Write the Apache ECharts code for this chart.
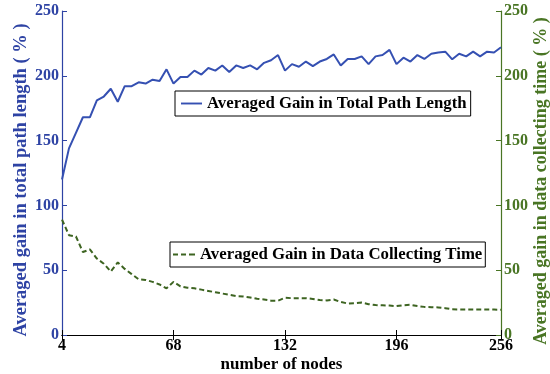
<!DOCTYPE html>
<html>
<head>
<meta charset="utf-8">
<script src="https://cdn.jsdelivr.net/npm/echarts@6/dist/echarts.min.js"></script>
<style>
html,body{margin:0;padding:0;background:#fff;}
#chart{width:550px;height:374px;}
</style>
</head>
<body>
<div id="chart"></div>
<script>
const nodes = [4,8,12,16,20,24,28,32,36,40,44,48,52,56,60,64,68,72,76,80,84,88,92,96,100,104,108,112,116,120,124,128,132,136,140,144,148,152,156,160,164,168,172,176,180,184,188,192,196,200,204,208,212,216,220,224,228,232,236,240,244,248,252,256];
const pathGain = [120,144,156,168,168,181,184,190,180,192,192,195,194,197,196,205,194,199,199,204,201,206,204,208,203,208,206,208,205,210,212,216,204,209,207,211,207.5,211,213,216.5,208,213,213,215,209,215,216,220,209,214,211,216,213,217,218,218.6,212.7,217,215,218.6,215,218.6,218,222];
const timeGain = [89,77,76,64,66,59,55,49,56,51,47,43,42.5,41,39,36,41,37.5,36.5,36,35,34,33,32,31,30,29.7,29,28,27.4,26.5,26.5,28.7,28.4,28.4,28.4,27.8,27,26.7,27.4,25.5,24.3,24.5,25,23.8,23.1,22.9,22.7,22.3,23,23.3,22.3,21.7,21.5,21.3,20.7,19.8,19.7,19.7,19.7,19.7,19.6,19.6,19.5];
const xTicks = {min: 4, max: 256, interval: 64};
const yTicks = {min: 0, max: 250, interval: 50};
const seriesNames = ['Averaged Gain in Total Path Length', 'Averaged Gain in Data Collecting Time'];
const axisNames = {x: 'number of nodes', left: 'Averaged gain in total path length ( % )', right: 'Averaged gain in data collecting time ( % )'};

const FONT = 'Liberation Serif';
const BLUE_TXT = '#2e43a4';
const BLUE_LINE = '#3550b2';
const GREEN_TXT = '#497524';
const GREEN_LINE = '#3d6421';

const chart = echarts.init(document.getElementById('chart'));
const pathData = nodes.map((n, i) => [n, pathGain[i]]);
const timeData = nodes.map((n, i) => [n, timeGain[i]]);
const lblStyle = (c, s) => ({color: c, fontFamily: FONT, fontWeight: 'bold', fontSize: s || 16});
const legendText = {color: '#000', fontFamily: FONT, fontWeight: 'bold', fontSize: 16.8};

chart.setOption({
  backgroundColor: '#fff',
  animation: false,
  grid: {left: 62, right: 49, top: 11, bottom: 39, containLabel: false, outerBoundsMode: 'none'},
  legend: [
    {
      data: [{name: seriesNames[0], icon: 'path://M0,0h22v2h-22z'}], left: 175, top: 91,
      backgroundColor: '#fff', borderColor: '#000', borderWidth: 1, borderRadius: 0,
      padding: [4, 4, 4, 6], itemWidth: 21, itemHeight: 2, itemGap: 4,
      textStyle: legendText,
      selectedMode: false
    },
    {
      data: [{name: seriesNames[1], icon: 'path://M0,0h5v2h-5zM8,0h5v2h-5zM16,0h6v2h-6z'}], left: 170, top: 242,
      backgroundColor: '#fff', borderColor: '#000', borderWidth: 1, borderRadius: 0,
      padding: [4, 3, 4, 3], itemWidth: 22, itemHeight: 2,
      textStyle: legendText,
      selectedMode: false
    }
  ],
  xAxis: [
    {
      type: 'value', position: 'bottom', min: xTicks.min, max: xTicks.max, interval: xTicks.interval,
      axisLine: {lineStyle: {color: '#000', width: 1.2}},
      axisTick: {inside: true, length: 5, lineStyle: {color: '#000'}},
      axisLabel: Object.assign(lblStyle('#000'), {margin: 3}),
      splitLine: {show: false},
      name: axisNames.x, nameLocation: 'middle', nameGap: 21, nameMoveOverlap: false,
      nameTextStyle: lblStyle('#000', 17)
    },
    {
      type: 'value', position: 'top', min: xTicks.min, max: xTicks.max, interval: xTicks.interval,
      axisLine: {lineStyle: {color: '#000', width: 1.2}},
      axisTick: {inside: true, length: 5, lineStyle: {color: '#000'}},
      axisLabel: {show: false},
      splitLine: {show: false}
    }
  ],
  yAxis: [
    {
      type: 'value', position: 'left', min: yTicks.min, max: yTicks.max, interval: yTicks.interval,
      axisLine: {show: true, lineStyle: {color: BLUE_TXT, width: 1.2}},
      axisTick: {show: true, inside: true, length: 5, lineStyle: {color: BLUE_TXT}},
      axisLabel: Object.assign(lblStyle(BLUE_TXT), {margin: 3}),
      splitLine: {show: false},
      name: axisNames.left, nameLocation: 'middle', nameGap: 31, nameRotate: 90, nameMoveOverlap: false,
      nameTextStyle: Object.assign(lblStyle(BLUE_TXT, 18.5), {padding: [0, 14, 0, 0]})
    },
    {
      type: 'value', position: 'right', min: yTicks.min, max: yTicks.max, interval: yTicks.interval,
      axisLine: {show: true, lineStyle: {color: GREEN_TXT, width: 1.2}},
      axisTick: {show: true, inside: true, length: 5, lineStyle: {color: GREEN_TXT}},
      axisLabel: Object.assign(lblStyle(GREEN_TXT), {margin: 3}),
      splitLine: {show: false},
      name: axisNames.right, nameLocation: 'middle', nameGap: 31, nameRotate: 90, nameMoveOverlap: false,
      nameTextStyle: Object.assign(lblStyle(GREEN_TXT, 18), {padding: [0, 16, 0, 0]})
    }
  ],
  series: [
    {
      name: seriesNames[0], type: 'line', xAxisIndex: 0, yAxisIndex: 0,
      data: pathData, symbol: 'none', smooth: false,
      lineStyle: {color: BLUE_LINE, width: 2}, itemStyle: {color: BLUE_LINE}
    },
    {
      name: seriesNames[1], type: 'line', xAxisIndex: 0, yAxisIndex: 1,
      data: timeData, symbol: 'none', smooth: false,
      lineStyle: {color: GREEN_LINE, width: 2, type: [5, 3]}, itemStyle: {color: GREEN_LINE}
    }
  ]
});
</script>
</body>
</html>
